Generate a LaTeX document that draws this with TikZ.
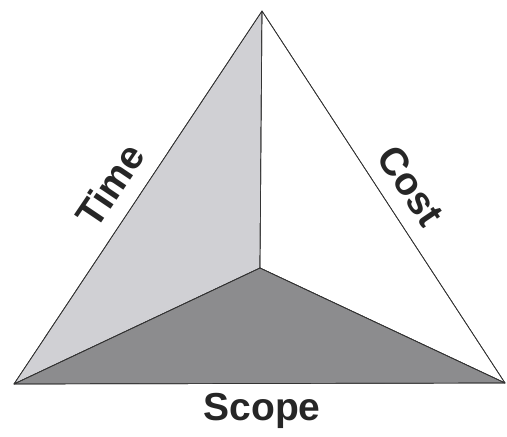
\documentclass[tikz,border=0pt]{standalone}
\usepackage{fontspec}
\setmainfont{Liberation Sans}
\usepackage[dvipsnames]{xcolor}
\usetikzlibrary{positioning}
\definecolor{timegray}{RGB}{208,208,212}
\definecolor{scopegray}{RGB}{140,140,142}
\begin{document}
\begin{tikzpicture}[x=1pt,y=-1pt,every node/.style={font=\fontsize{39}{42}\selectfont\bfseries,text=black!85,inner sep=0pt},face/.style={draw=black!80,line width=0.7pt,line join=round},label/.style={anchor=center}]
\useasboundingbox (0,0) rectangle (507,437);
\coordinate (top) at (262,11);
\coordinate (bl) at (14,384);
\coordinate (br) at (505,383);
\coordinate (mid) at (260,268);
\fill[face,fill=timegray] (top)--(mid)--(bl)--cycle;
\fill[face,fill=white] (top)--(br)--(mid)--cycle;
\fill[face,fill=scopegray] (bl)--(mid)--(br)--cycle;
\draw[face] (top)--(bl)--(br)--cycle;
\draw[face] (top)--(mid);\draw[face] (bl)--(mid)--(br);
\node[label,rotate=56] (time) at (110,185) {Time};
\node[label,rotate=-56] (cost) at (411,186) {Cost};
\node[label] (scope) at (262,411) {Scope};
\end{tikzpicture}
\end{document}
